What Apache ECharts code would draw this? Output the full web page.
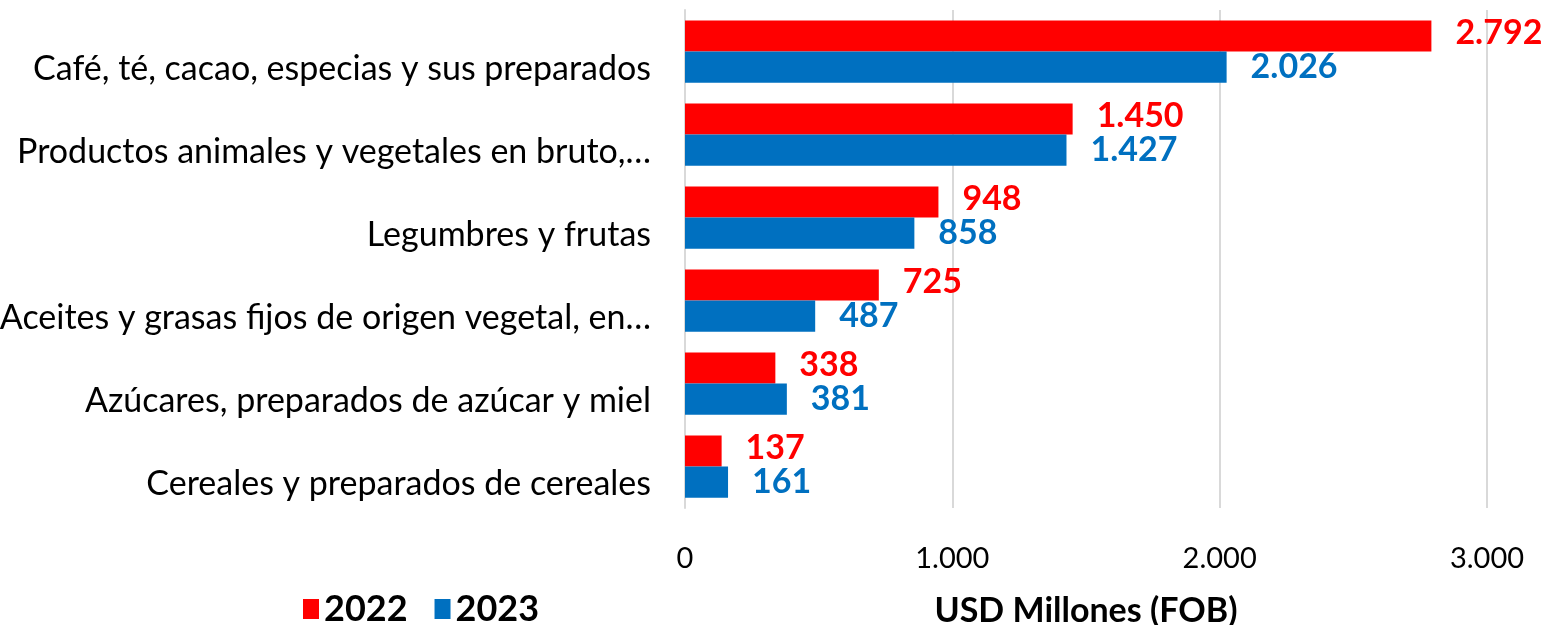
<!DOCTYPE html>
<html>
<head>
<meta charset="utf-8">
<script src="https://cdn.jsdelivr.net/npm/echarts@6/dist/echarts.min.js"></script>
<style>html,body{margin:0;padding:0;background:#fff;}#c{width:1543px;height:625px;}</style>
</head>
<body>
<div id="c"></div>
<script>
const categories = [
  "Café, té, cacao, especias y sus preparados",
  "Productos animales y vegetales en bruto,…",
  "Legumbres y frutas",
  "Aceites y grasas fijos de origen vegetal, en…",
  "Azúcares, preparados de azúcar y miel",
  "Cereales y preparados de cereales"
];
const values2022 = [2792, 1450, 948, 725, 338, 137];
const values2023 = [2026, 1427, 858, 487, 381, 161];
const seriesNames = ["2022", "2023"];
const xTicks = [0, 1000, 2000, 3000];
const axisTitle = "USD Millones (FOB)";

function fmt(v) {
  return String(v).replace(/\B(?=(\d{3})+(?!\d))/g, ".");
}

const FONT = "Lato";
const chart = echarts.init(document.getElementById('c'), null, {renderer: 'canvas'});
chart.setOption({
  animation: false,
  backgroundColor: '#ffffff',
  textStyle: {fontFamily: FONT},
  grid: {left: 685, right: 56, top: 10, bottom: 117, containLabel: false, outerBoundsMode: 'none'},
  legend: {
    data: seriesNames,
    left: 298, top: 586,
    itemWidth: 16, itemHeight: 20, itemGap: 27,
    icon: 'rect',
    textStyle: {fontFamily: FONT, fontSize: 36, fontWeight: 'bold', color: '#000'}
  },
  xAxis: {
    type: 'value',
    min: xTicks[0], max: xTicks[xTicks.length - 1], interval: xTicks[1] - xTicks[0],
    name: axisTitle,
    nameLocation: 'middle',
    nameGap: 86,
    nameTextStyle: {fontFamily: FONT, fontSize: 34, fontWeight: 'bold', color: '#000'},
    axisLine: {show: false},
    axisTick: {show: false},
    splitLine: {show: true, lineStyle: {color: '#D9D9D9', width: 2}},
    axisLabel: {fontFamily: FONT, fontSize: 29, color: '#000', margin: 36, formatter: fmt}
  },
  yAxis: {
    type: 'category',
    data: categories,
    inverse: true,
    axisLine: {show: true, lineStyle: {color: '#D9D9D9', width: 2}},
    axisTick: {show: false},
    axisLabel: {fontFamily: FONT, fontSize: 34, color: '#000', margin: 34, verticalAlign: 'top', lineHeight: 36}
  },
  series: [
    {
      name: seriesNames[0], type: 'bar', data: values2022,
      barGap: '0%', barCategoryGap: '25%',
      itemStyle: {color: '#FF0000'},
      label: {show: true, position: 'right', distance: 24, offset: [0, -3], formatter: p => fmt(p.value),
        fontFamily: FONT, fontSize: 34, fontWeight: 'bold', color: '#FF0000'}
    },
    {
      name: seriesNames[1], type: 'bar', data: values2023,
      barGap: '0%', barCategoryGap: '25%',
      itemStyle: {color: '#0070C0'},
      label: {show: true, position: 'right', distance: 24, formatter: p => fmt(p.value),
        fontFamily: FONT, fontSize: 34, fontWeight: 'bold', color: '#0070C0'}
    }
  ]
});
</script>
</body>
</html>
